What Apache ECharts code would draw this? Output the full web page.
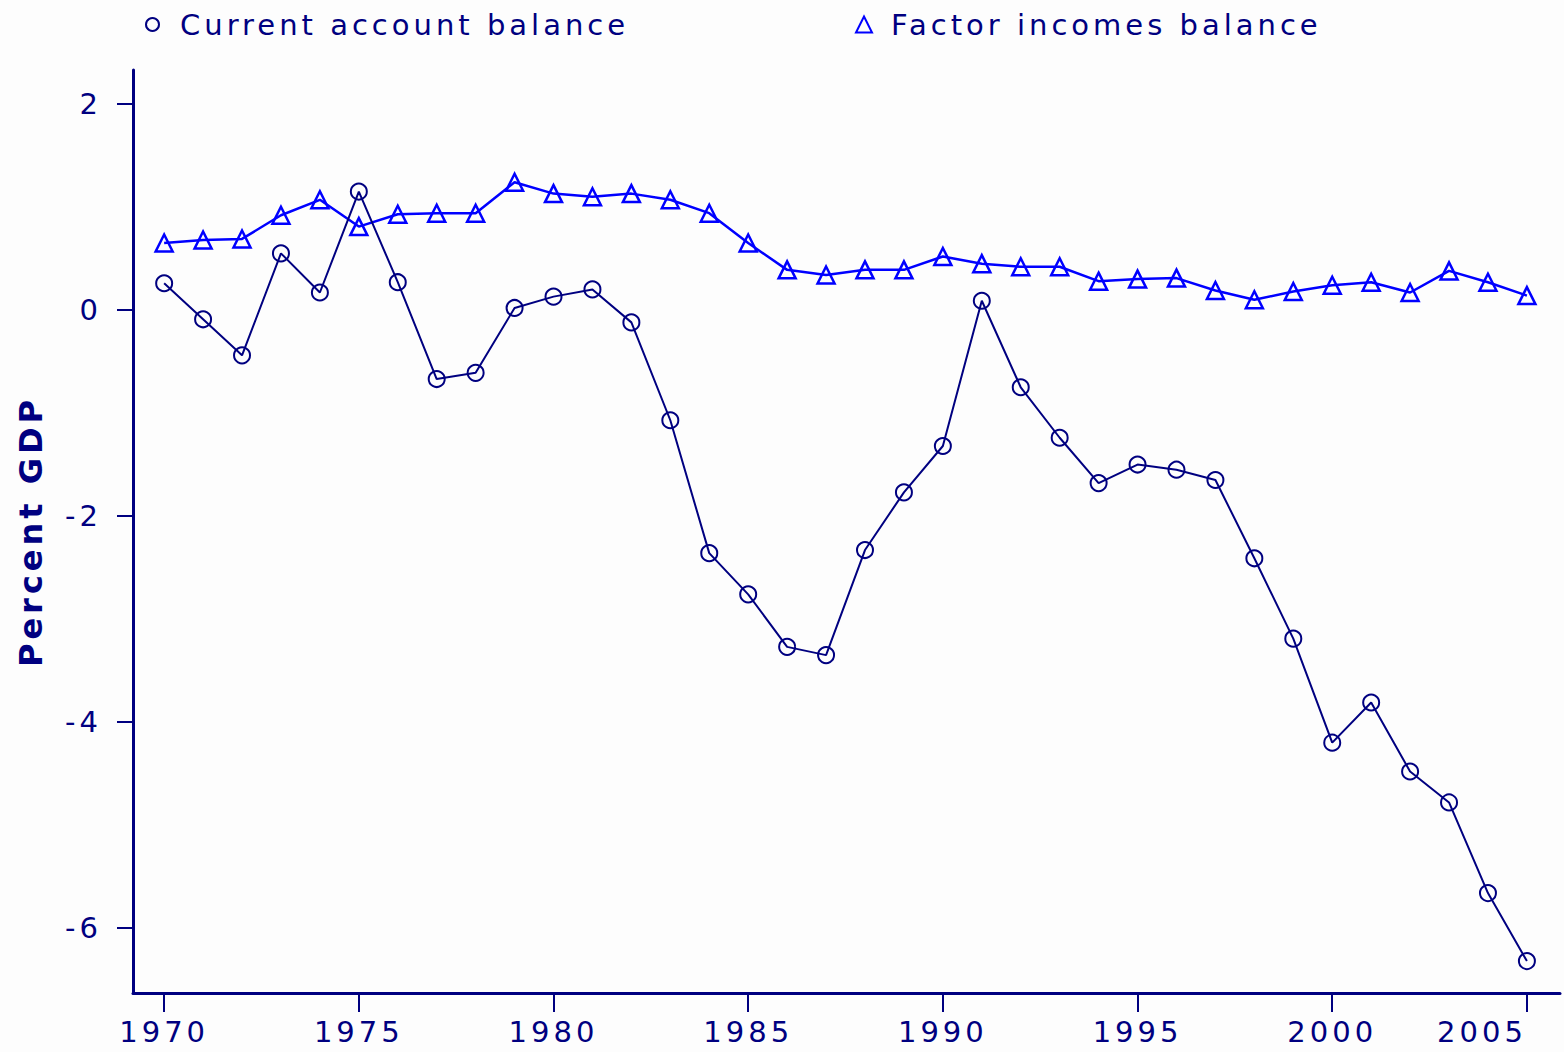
<!DOCTYPE html>
<html>
<head>
<meta charset="utf-8">
<script src="https://cdn.jsdelivr.net/npm/echarts@6/dist/echarts.min.js"></script>
<style>
  html, body { margin: 0; padding: 0; background: #fdfdfd; }
  #chart { width: 1564px; height: 1052px; }
  /* the original font is very wide, spread the letters out a bit */
  #chart text { letter-spacing: 4px; }
</style>
</head>
<body>
<div id="chart"></div>
<script>
// years 1970 - 2005
const years = [1970, 1971, 1972, 1973, 1974, 1975, 1976, 1977, 1978, 1979,
  1980, 1981, 1982, 1983, 1984, 1985, 1986, 1987, 1988, 1989,
  1990, 1991, 1992, 1993, 1994, 1995, 1996, 1997, 1998, 1999,
  2000, 2001, 2002, 2003, 2004, 2005]
const currentAccount = [0.26, -0.09, -0.44, 0.55, 0.17, 1.15, 0.27, -0.67, -0.61, 0.02,
  0.13, 0.2, -0.12, -1.07, -2.36, -2.76, -3.27, -3.35, -2.33, -1.77,
  -1.32, 0.09, -0.75, -1.24, -1.68, -1.5, -1.55, -1.65, -2.41, -3.19,
  -4.2, -3.81, -4.48, -4.78, -5.66, -6.32]
const factorIncomes = [0.65, 0.68, 0.69, 0.92, 1.07, 0.81, 0.93, 0.94, 0.94, 1.24,
  1.13, 1.1, 1.13, 1.07, 0.94, 0.65, 0.39, 0.34, 0.39, 0.39,
  0.52, 0.45, 0.42, 0.42, 0.28, 0.3, 0.31, 0.19, 0.1, 0.18,
  0.24, 0.27, 0.17, 0.38, 0.27, 0.14]
const xTicks = [1970, 1975, 1980, 1985, 1990, 1995, 2000, 2005]
const yTicks = [-6, -4, -2, 0, 2]

const navy = '#000080'
const blue = '#0000ff'
const font = 'DejaVu Sans'

const myChart = echarts.init(document.getElementById('chart'), null, { renderer: 'svg' })
const option = {
  backgroundColor: '#fdfdfd',
  animation: false,
  textStyle: { fontFamily: font },
  legend: [
    {
      left: 140,
      top: 5,
      itemWidth: 13,
      itemHeight: 13,
      textStyle: { color: navy, fontSize: 29, fontFamily: font, padding: [0, 0, 0, 16] },
      data: [{
        name: 'Current account balance',
        icon: 'circle',
        itemStyle: { color: 'transparent', borderColor: navy, borderWidth: 2 }
      }]
    },
    {
      left: 850,
      top: 5,
      itemWidth: 16,
      itemHeight: 16,
      textStyle: { color: navy, fontSize: 29, fontFamily: font, padding: [0, 0, 0, 14] },
      data: [{
        name: 'Factor incomes balance',
        icon: 'triangle',
        itemStyle: { color: 'transparent', borderColor: blue, borderWidth: 2 }
      }]
    }
  ],
  grid: {
    left: 133,
    right: 4,
    top: 70,
    bottom: 59,
    outerBoundsMode: 'none'
  },
  xAxis: {
    type: 'value',
    min: 1969.2,
    max: 2005.85,
    axisLine: { show: true, onZero: false, lineStyle: { color: navy, width: 3 } },
    axisTick: {
      show: true,
      customValues: xTicks,
      length: 19,
      lineStyle: { color: navy, width: 2 }
    },
    axisLabel: {
      customValues: xTicks,
      formatter: v => String(v),
      color: navy,
      fontSize: 29,
      fontFamily: font,
      margin: 24,
      alignMaxLabel: 'right'
    },
    splitLine: { show: false }
  },
  yAxis: {
    type: 'value',
    min: -6.63,
    max: 2.33,
    name: 'Percent GDP',
    nameLocation: 'middle',
    nameGap: 86,
    nameRotate: 90,
    nameTextStyle: { color: navy, fontSize: 32, fontWeight: 'bold', fontFamily: font },
    axisLine: { show: true, onZero: false, lineStyle: { color: navy, width: 3 } },
    axisTick: {
      show: true,
      customValues: yTicks,
      length: 16,
      lineStyle: { color: navy, width: 2 }
    },
    axisLabel: {
      customValues: yTicks,
      color: navy,
      fontSize: 29,
      fontFamily: font,
      margin: 31
    },
    splitLine: { show: false }
  },
  series: [
    {
      name: 'Current account balance',
      type: 'line',
      data: years.map((y, i) => [y, currentAccount[i]]),
      symbol: 'circle',
      symbolSize: 16,
      lineStyle: { color: navy, width: 2 },
      itemStyle: { color: 'transparent', borderColor: navy, borderWidth: 2 },
      z: 3
    },
    {
      name: 'Factor incomes balance',
      type: 'line',
      data: years.map((y, i) => [y, factorIncomes[i]]),
      symbol: 'triangle',
      symbolSize: 17,
      lineStyle: { color: blue, width: 2.5 },
      itemStyle: { color: 'transparent', borderColor: blue, borderWidth: 2.5 },
      z: 2
    }
  ]
}
myChart.setOption(option)
</script>
</body>
</html>
